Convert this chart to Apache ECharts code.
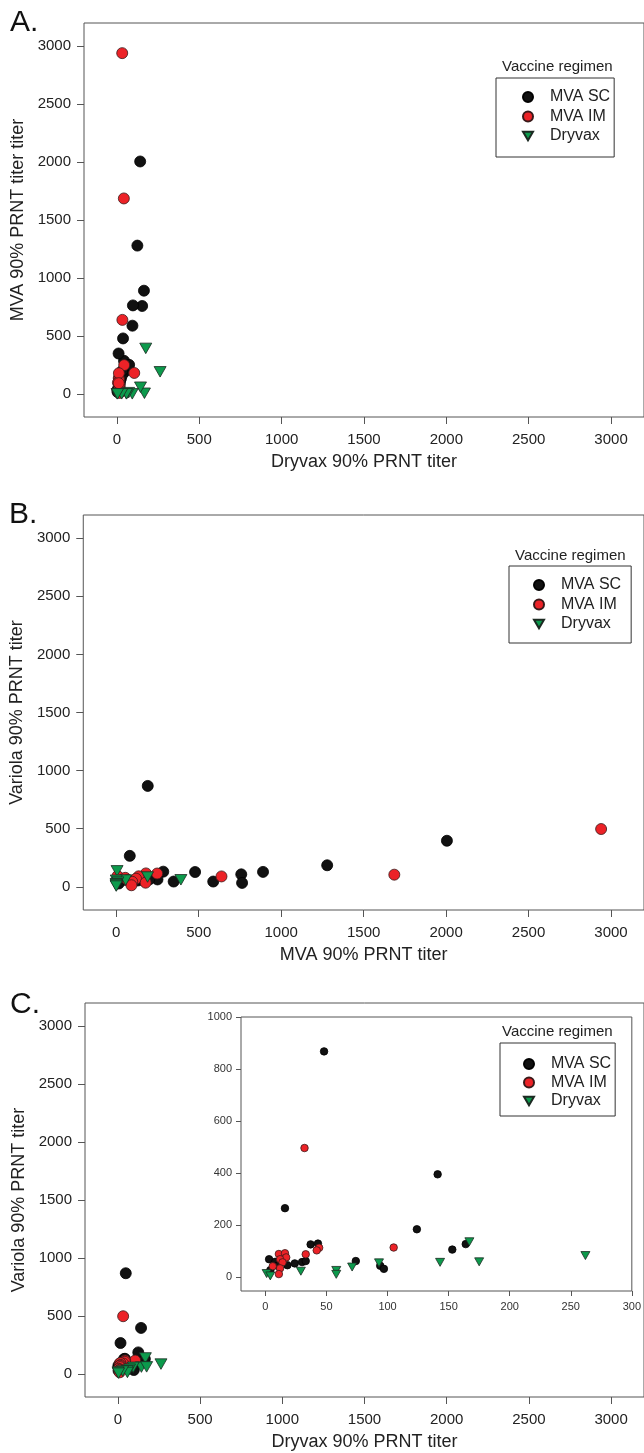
<!DOCTYPE html>
<html>
<head>
<meta charset="utf-8">
<script src="https://cdn.jsdelivr.net/npm/echarts@6/dist/echarts.min.js"></script>
<style>
html,body{margin:0;padding:0;background:#fff;}
#chart{width:644px;height:1453px;}
</style>
</head>
<body>
<div id="chart"></div>
<script>
// ---- Data: one entry per subject (Dryvax, MVA and Variola 90% PRNT titers) ----
const scDryvax  = [48, 141, 16, 124, 153, 164, 37, 43, 74, 94, 97, 3, 8, 10, 4, 18, 24, 30, 33];
const scMVA     = [191, 2005, 82, 1279, 758, 890, 478, 285, 250, 588, 763, 30, 50, 348, 15, 100, 130, 160, 200];
const scVariola = [868, 396, 266, 185, 107, 128, 127, 130, 63, 45, 33, 70, 60, 45, 28, 47, 54, 59, 63];

const imDryvax  = [32, 105, 44, 42, 33, 11, 16, 17, 12, 14, 6, 12, 11];
const imMVA     = [2940, 180, 248, 1686, 638, 136, 8, 55, 120, 70, 97, 178, 92];
const imVariola = [497, 115, 114, 104, 89, 90, 93, 77, 70, 58, 43, 35, 13];

const dvDryvax  = [262, 167, 143, 175, 93, 71, 58, 58, 29, 1, 4];
const dvMVA     = [190, 5, 57, 392, 0, 10, 0, 0, 0, 0, 0];
const dvVariola = [84, 137, 58, 60, 56, 40, 27, 12, 24, 15, 6];

const groupNames = ['MVA SC', 'MVA IM', 'Dryvax'];
const mainTicks  = [0, 500, 1000, 1500, 2000, 2500, 3000];
const insetXTicks = [0, 50, 100, 150, 200, 250, 300];
const insetYTicks = [0, 200, 400, 600, 800, 1000];

const panelLetters = ['A.', 'B.', 'C.'];
const axisTitles = {
  aX: 'Dryvax 90% PRNT titer', aY: 'MVA 90% PRNT titer titer',
  bX: 'MVA 90% PRNT titer',    bY: 'Variola 90% PRNT titer',
  cX: 'Dryvax 90% PRNT titer', cY: 'Variola 90% PRNT titer'
};
const legendTitle = 'Vaccine regimen';

// ---- Helpers ----
const FONT = "'Liberation Sans', Arial, Helvetica, sans-serif";
const zip = (a, b) => a.map((v, i) => [v, b[i]]);
const plain = v => String(v);
const TRI = 'path://M0,0L10,0L5,8.7Z';
const styles = [
  { symbol: 'circle', color: '#111111', border: '#000000' },
  { symbol: 'circle', color: '#ec2227', border: '#3a1a1a' },
  { symbol: TRI,      color: '#0c9a4c', border: '#1c2a22' }
];

function mainX(idx, name) {
  return {
    type: 'value', gridIndex: idx, min: -200, max: 3200,
    name: name, nameLocation: 'middle', nameGap: 36,
    nameTextStyle: { fontFamily: FONT, fontSize: 18, color: '#222' },
    axisLine: { show: false, onZero: false },
    axisTick: { show: true, inside: false, length: 7, customValues: mainTicks, lineStyle: { color: '#555' } },
    axisLabel: { customValues: mainTicks, formatter: plain, fontFamily: FONT, fontSize: 15, color: '#222', margin: 15 },
    splitLine: { show: false }
  };
}
function mainY(idx, name) {
  return {
    type: 'value', gridIndex: idx, min: -200, max: 3200,
    name: name, nameLocation: 'middle', nameGap: 56,
    nameTextStyle: { fontFamily: FONT, fontSize: 18, color: '#222' },
    axisLine: { show: false, onZero: false },
    axisTick: { show: true, inside: false, length: 7, customValues: mainTicks, lineStyle: { color: '#555' } },
    axisLabel: { customValues: mainTicks, formatter: plain, fontFamily: FONT, fontSize: 15, color: '#222', margin: 13 },
    splitLine: { show: false }
  };
}

const grids = [
  { left: 84, top: 23,   width: 563, height: 394 },
  { left: 82, top: 515,  width: 565, height: 395 },
  { left: 85, top: 1003, width: 562, height: 394 },
  { left: 241, top: 1017, width: 392, height: 274 }
].map(g => Object.assign({ show: true, borderColor: '#555', borderWidth: 1, backgroundColor: '#fff' }, g));
grids[3].z = 5;

const xAxes = [
  mainX(0, axisTitles.aX), mainX(1, axisTitles.bX), mainX(2, axisTitles.cX),
  {
    type: 'value', gridIndex: 3, min: -20, max: 300, z: 6,
    axisLine: { show: false, onZero: false },
    axisTick: { length: 5, customValues: insetXTicks, lineStyle: { color: '#555' } },
    axisLabel: { customValues: insetXTicks, formatter: plain, fontFamily: FONT, fontSize: 11, color: '#333', margin: 10 },
    splitLine: { show: false }
  }
];
const yAxes = [
  mainY(0, axisTitles.aY), mainY(1, axisTitles.bY), mainY(2, axisTitles.cY),
  {
    type: 'value', gridIndex: 3, min: -52, max: 1000, z: 6,
    axisLine: { show: false, onZero: false },
    axisTick: { length: 5, customValues: insetYTicks, lineStyle: { color: '#555' } },
    axisLabel: { customValues: insetYTicks, formatter: plain, fontFamily: FONT, fontSize: 11, color: '#333', margin: 9 },
    splitLine: { show: false }
  }
];

const panelData = [
  [zip(scDryvax, scMVA), zip(imDryvax, imMVA), zip(dvDryvax, dvMVA)],
  [zip(scMVA, scVariola), zip(imMVA, imVariola), zip(dvMVA, dvVariola)],
  [zip(scDryvax, scVariola), zip(imDryvax, imVariola), zip(dvDryvax, dvVariola)],
  [zip(scDryvax, scVariola), zip(imDryvax, imVariola), zip(dvDryvax, dvVariola)]
];

const series = [];
panelData.forEach((sets, p) => {
  const inset = p === 3;
  sets.forEach((d, g) => {
    const s = styles[g];
    let size = inset ? 7.5 : 11;
    if (g === 2) size = inset ? [9, 8] : [12, 10.5];
    series.push({
      type: 'scatter', name: groupNames[g], xAxisIndex: p, yAxisIndex: p,
      data: d, symbol: s.symbol, symbolSize: size,
      itemStyle: { color: s.color, borderColor: s.border, borderWidth: 0.8, opacity: 1 },
      z: inset ? 8 + g : 2 + g, silent: true, animation: false
    });
  });
});

function legendAt(left, top, pad, gap) {
  return {
    orient: 'vertical', left: left, top: top, selectedMode: false,
    data: [
      { name: 'MVA SC', icon: 'circle' },
      { name: 'MVA IM', icon: 'circle' },
      { name: 'Dryvax', icon: TRI }
    ],
    itemWidth: 10, itemHeight: 10, itemGap: gap,
    borderColor: '#333', borderWidth: 1, padding: pad,
    backgroundColor: '#fff', z: 20,
    textStyle: { fontFamily: FONT, fontSize: 16, color: '#222', lineHeight: 16, padding: [0, 0, 0, 12] }
  };
}
const legends = [
  legendAt(496, 78, [11, 4, 13, 26], 3.5),
  legendAt(509, 566, [11, 10, 11, 24], 3.5),
  legendAt(500, 1043, [13, 4, 7, 23], 2.5)
];

const graphics = [
  { type: 'text', left: 10, top: 8,  style: { text: panelLetters[0], fontFamily: FONT, fontSize: 30, fill: '#111' } },
  { type: 'text', left: 9,  top: 500, style: { text: panelLetters[1], fontFamily: FONT, fontSize: 30, fill: '#111' } },
  { type: 'text', left: 10, top: 990, style: { text: panelLetters[2], fontFamily: FONT, fontSize: 30, fill: '#111' } },
  { type: 'text', left: 502, top: 59, z: 30, style: { text: legendTitle, fontFamily: FONT, fontSize: 15, fill: '#222' } },
  { type: 'text', left: 515, top: 548, z: 30, style: { text: legendTitle, fontFamily: FONT, fontSize: 15, fill: '#222' } },
  { type: 'text', left: 502, top: 1024, z: 30, style: { text: legendTitle, fontFamily: FONT, fontSize: 15, fill: '#222' } }
];

const chart = echarts.init(document.getElementById('chart'), null, { renderer: 'canvas' });
chart.setOption({
  animation: false,
  backgroundColor: '#fff',
  grid: grids,
  xAxis: xAxes,
  yAxis: yAxes,
  legend: legends,
  series: series,
  graphic: graphics
});
</script>
</body>
</html>
